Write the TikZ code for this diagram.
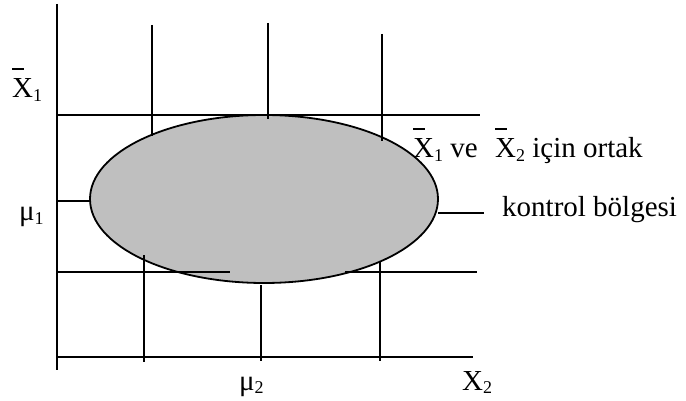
\documentclass[tikz,border=0pt]{standalone}
\usepackage{fontspec}
\setmainfont{Liberation Serif}
\usetikzlibrary{shapes.geometric}
\newcommand\xb{\leavevmode\rlap{\rule[0.98em]{0.42em}{0.065em}}X}
\newcommand\sub[1]{\raisebox{-0.12em}{\fontsize{18}{18}\selectfont #1}}
\begin{document}
\begin{tikzpicture}[x=1pt,y=-1pt,
  ln/.style={line width=1.6pt},
  lbl/.style={anchor=base west,inner sep=0pt,font=\fontsize{29}{32}\selectfont}]
\useasboundingbox (0,0) rectangle (686,401);
% region
\node[ellipse,draw,line width=1.8pt,fill=black!25,minimum width=348pt,minimum height=168pt,inner sep=0pt] (reg) at (264,199) {};
% axes
\coordinate (ytop) at (57,4);
\coordinate (ybot) at (57,370);
\coordinate (xl) at (57,357);
\coordinate (xr) at (473,357);
\draw[ln] (ytop) -- (ybot);
\draw[ln] (xl) -- (xr);
% upper control line
\coordinate (ul) at (57,115);
\coordinate (ur) at (480,115);
\draw[ln] (ul) -- (ur);
% lower control lines
\coordinate (ll1) at (57,272);
\coordinate (ll2) at (230,272);
\coordinate (lr1) at (345,272);
\coordinate (lr2) at (477,272);
\draw[ln] (ll1) -- (ll2);
\draw[ln] (lr1) -- (lr2);
% upper verticals
\coordinate (v1a) at (152,25); \coordinate (v1b) at (152,136);
\coordinate (v2a) at (268,23); \coordinate (v2b) at (268,119);
\coordinate (v3a) at (382,34); \coordinate (v3b) at (382,141);
\draw[ln] (v1a) -- (v1b);
\draw[ln] (v2a) -- (v2b);
\draw[ln] (v3a) -- (v3b);
% lower verticals
\coordinate (w1a) at (144,255); \coordinate (w1b) at (144,362);
\coordinate (w2a) at (261,285); \coordinate (w2b) at (261,361);
\coordinate (w3a) at (380,262); \coordinate (w3b) at (380,361);
\draw[ln] (w1a) -- (w1b);
\draw[ln] (w2a) -- (w2b);
\draw[ln] (w3a) -- (w3b);
% ticks
\coordinate (m1) at (57,201);
\coordinate (m1e) at (90,201);
\draw[ln] (m1) -- (m1e);
\coordinate (kr) at (484,213);
\coordinate (kl) at (438,213);
\draw[ln] (kl) -- (kr);
% labels
\node[lbl] (lx1) at (12,98) {\xb\sub{1}};
\node[lbl] (lm1) at (19,221) {μ\sub{1}};
\node[lbl] (lm2) at (239,390) {μ\sub{2}};
\node[lbl] (lx2) at (462,390) {X\sub{2}};
\node[lbl] (t1) at (413,158) {\xb\sub{1} ve\hspace{0.35em} \xb\sub{2} için ortak};
\node[lbl] (t2) at (502,216) {kontrol bölgesi};
\end{tikzpicture}
\end{document}
